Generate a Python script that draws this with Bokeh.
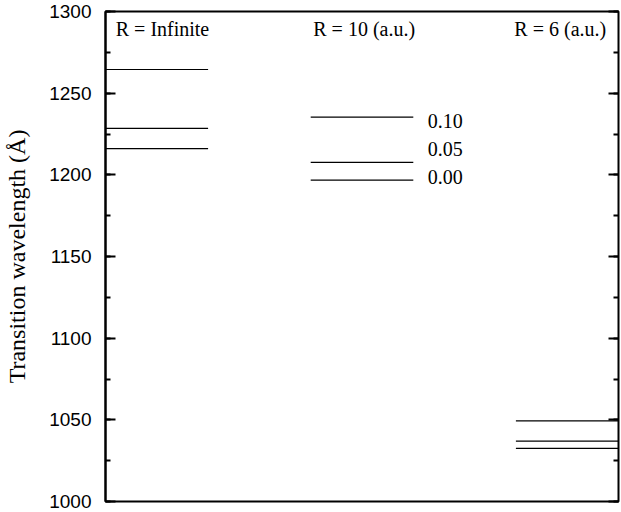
from bokeh.plotting import figure
from bokeh.models import LinearAxis, SingleIntervalTicker, Range1d, ColumnDataSource, CustomJSTickFormatter
from bokeh.core.properties import value
from bokeh.embed import file_html
from bokeh.resources import INLINE

# ---- data ----
groups = ["R = Infinite", "R = 10 (a.u.)", "R = 6 (a.u.)"]
wl_infinite = [1264.5, 1228.5, 1216.0]
wl_r10 = [1235.3, 1207.6, 1196.7]
wl_r6 = [1049.4, 1037.0, 1032.5]
r10_labels = ["0.10", "0.05", "0.00"]
r10_label_y = [1233.0, 1215.6, 1198.7]

# ---- layout constants ----
spans = [(0.0, 0.2), (0.4, 0.6), (0.8, 1.0)]
title_x = [0.02, 0.405, 0.797]
title_y = 1289.5
label_x = 0.628

p = figure(width=621, height=512, output_backend="svg", toolbar_location=None,
           x_range=Range1d(0, 1), y_range=Range1d(1000, 1300),
           x_axis_location=None, y_axis_location="left",
           min_border_left=105, min_border_right=3, min_border_top=11, min_border_bottom=11)
p.grid.visible = False
p.outline_line_color = "black"
p.outline_line_width = 2
p.background_fill_color = "white"
p.border_fill_color = "white"

ax = p.yaxis[0]
ax.ticker = SingleIntervalTicker(interval=50, num_minor_ticks=2)
ax.axis_line_width = 2
ax.major_tick_in = 10
ax.major_tick_out = 0
ax.minor_tick_in = 5
ax.minor_tick_out = 0
ax.major_tick_line_width = 2
ax.minor_tick_line_width = 2
ax.major_label_text_font = "Liberation Sans"
ax.major_label_text_font_size = "19px"
ax.major_label_text_color = "black"
ax.major_label_standoff = 14
ax.axis_label = "Transition wavelength (Å)"
ax.axis_label_text_font = "Liberation Serif"
ax.axis_label_text_font_size = "24px"
ax.axis_label_text_font_style = "normal"
ax.axis_label_text_color = "black"
ax.axis_label_standoff = 16

rax = LinearAxis(ticker=SingleIntervalTicker(interval=50, num_minor_ticks=2),
                 formatter=CustomJSTickFormatter(code="return ''"))
rax.axis_line_color = None
rax.major_tick_in = 10
rax.major_tick_out = 0
rax.minor_tick_in = 5
rax.minor_tick_out = 0
rax.major_tick_line_width = 2
rax.minor_tick_line_width = 2
rax.major_label_standoff = 0
p.add_layout(rax, "right")

x0, x1, y = [], [], []
for (a, b), vals in zip(spans, [wl_infinite, wl_r10, wl_r6]):
    for v in vals:
        x0.append(a); x1.append(b); y.append(v)
src = ColumnDataSource(dict(x0=x0, x1=x1, y=y))
p.segment(x0="x0", y0="y", x1="x1", y1="y", source=src, line_color="black", line_width=1.2)

p.text(x=title_x, y=[title_y] * 3, text=groups, text_font=value("Liberation Serif"),
       text_font_size="20px", text_baseline="middle", text_align="left", text_color="black")
p.text(x=[label_x] * 3, y=r10_label_y, text=r10_labels, text_font=value("Liberation Serif"),
       text_font_size="20px", text_baseline="middle", text_align="left", text_color="black")

open("out.html", "w").write(file_html(p, INLINE))
